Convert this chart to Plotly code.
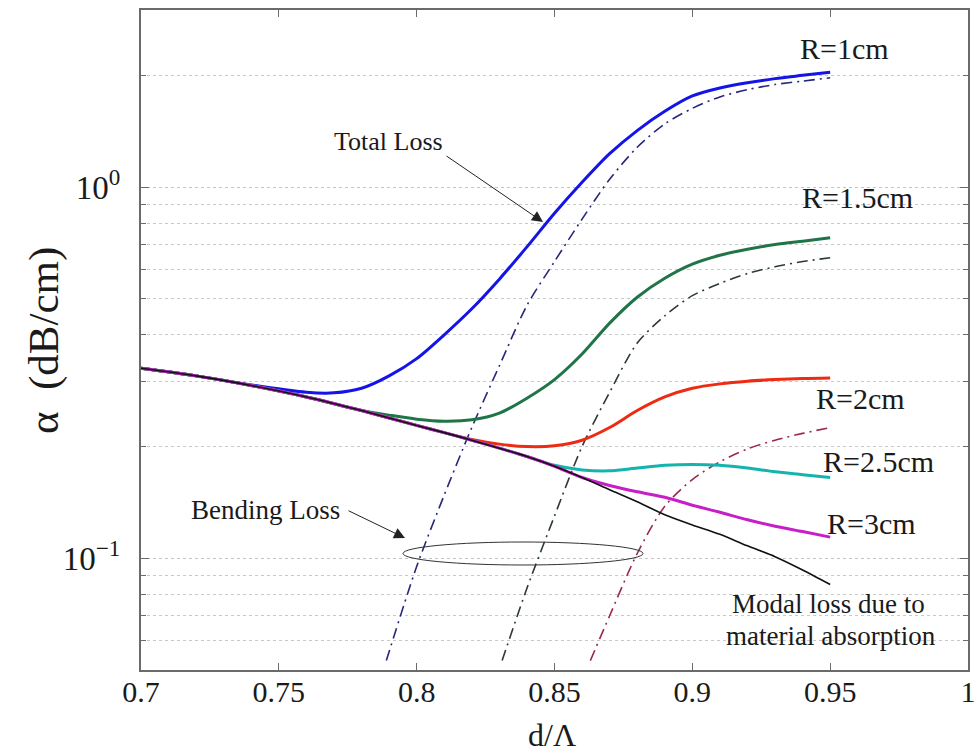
import math
import plotly.graph_objects as go

# ---------------- data ----------------
d_black = [0.70, 0.72, 0.74, 0.76, 0.78, 0.80, 0.81, 0.82, 0.83, 0.84, 0.85,
           0.86, 0.87, 0.88, 0.89, 0.90, 0.91, 0.92, 0.93, 0.94, 0.95]
a_material = [0.325, 0.310, 0.292, 0.272, 0.250, 0.228, 0.218, 0.208, 0.198, 0.188, 0.177,
              0.165, 0.153, 0.142, 0.131, 0.123, 0.116, 0.108, 0.101, 0.093, 0.085]

d_r1 = [0.70, 0.72, 0.74, 0.76, 0.77, 0.78, 0.79, 0.80, 0.81, 0.82, 0.83, 0.84, 0.85,
        0.86, 0.87, 0.88, 0.89, 0.90, 0.91, 0.92, 0.93, 0.94, 0.95]
a_r1 = [0.325, 0.310, 0.293, 0.280, 0.279, 0.287, 0.310, 0.345, 0.400, 0.470, 0.565, 0.690, 0.850,
        1.03, 1.23, 1.42, 1.60, 1.76, 1.85, 1.91, 1.96, 2.00, 2.04]

d_r15 = [0.70, 0.72, 0.74, 0.76, 0.78, 0.79, 0.80, 0.81, 0.82, 0.83, 0.84, 0.85,
         0.86, 0.87, 0.88, 0.89, 0.90, 0.91, 0.92, 0.93, 0.94, 0.95]
a_r15 = [0.325, 0.310, 0.292, 0.272, 0.250, 0.243, 0.237, 0.234, 0.236, 0.246, 0.270, 0.303,
         0.355, 0.430, 0.505, 0.568, 0.620, 0.655, 0.680, 0.700, 0.715, 0.730]

d_r2 = [0.70, 0.72, 0.74, 0.76, 0.78, 0.80, 0.81, 0.82, 0.83, 0.84, 0.85,
        0.86, 0.87, 0.88, 0.89, 0.90, 0.91, 0.92, 0.93, 0.94, 0.95]
a_r2 = [0.325, 0.310, 0.292, 0.272, 0.250, 0.228, 0.218, 0.209, 0.203, 0.200, 0.201,
        0.208, 0.225, 0.250, 0.272, 0.287, 0.295, 0.300, 0.303, 0.305, 0.306]

d_r25 = [0.70, 0.72, 0.74, 0.76, 0.78, 0.80, 0.81, 0.82, 0.83, 0.84, 0.85,
         0.86, 0.87, 0.88, 0.89, 0.90, 0.91, 0.92, 0.93, 0.94, 0.95]
a_r25 = [0.325, 0.310, 0.292, 0.272, 0.250, 0.228, 0.218, 0.208, 0.198, 0.188, 0.178,
         0.173, 0.172, 0.175, 0.178, 0.179, 0.178, 0.175, 0.171, 0.168, 0.165]

d_r3 = [0.70, 0.72, 0.74, 0.76, 0.78, 0.80, 0.81, 0.82, 0.83, 0.84, 0.85,
        0.86, 0.87, 0.88, 0.89, 0.90, 0.91, 0.92, 0.93, 0.94, 0.95]
a_r3 = [0.325, 0.310, 0.292, 0.272, 0.250, 0.228, 0.218, 0.208, 0.198, 0.188, 0.177,
        0.165, 0.157, 0.151, 0.146, 0.139, 0.133, 0.127, 0.122, 0.118, 0.114]

# bending-loss (dash-dot) curves
d_b1 = [0.789, 0.80, 0.81, 0.82, 0.83, 0.84, 0.85, 0.86, 0.87, 0.88, 0.89, 0.90,
        0.91, 0.92, 0.93, 0.94, 0.95]
a_b1 = [0.053, 0.095, 0.148, 0.225, 0.330, 0.480, 0.630, 0.820, 1.05, 1.28, 1.48, 1.63,
        1.75, 1.83, 1.89, 1.93, 1.97]

d_b15 = [0.831, 0.84, 0.85, 0.86, 0.87, 0.88, 0.89, 0.90, 0.91, 0.92, 0.93, 0.94, 0.95]
a_b15 = [0.053, 0.083, 0.130, 0.200, 0.280, 0.380, 0.450, 0.510, 0.550, 0.585, 0.610, 0.630, 0.645]

d_b2 = [0.863, 0.87, 0.88, 0.89, 0.90, 0.91, 0.92, 0.93, 0.94, 0.95]
a_b2 = [0.053, 0.070, 0.103, 0.138, 0.163, 0.182, 0.197, 0.208, 0.217, 0.225]

x_ticks = [0.7, 0.75, 0.8, 0.85, 0.9, 0.95, 1.0]
x_tick_text = ["0.7", "0.75", "0.8", "0.85", "0.9", "0.95", "1"]
y_ticks = [0.1, 1.0]
y_tick_text = ["10<sup>−1</sup>", "10<sup>0</sup>"]
y_minor = [0.05, 0.06, 0.07, 0.08, 0.09, 0.2, 0.3, 0.4, 0.5, 0.6, 0.7, 0.8, 0.9, 2.0, 3.0]

# ---------------- figure ----------------
SERIF = "Liberation Serif, Times New Roman, serif"
fig = go.Figure()

dashpat = "11px,5px,2px,5px"
for xs, ys, col in [(d_b1, a_b1, "#26267a"), (d_b15, a_b15, "#2c3a34"), (d_b2, a_b2, "#9a2a48")]:
    fig.add_trace(go.Scatter(x=xs, y=ys, mode="lines",
                             line=dict(color=col, width=1.6, dash=dashpat, shape="spline", smoothing=0.8),
                             hoverinfo="skip"))

for xs, ys, col in [(d_r1, a_r1, "#1414e6"), (d_r15, a_r15, "#1f7448"), (d_r2, a_r2, "#ee2a12"),
                    (d_r25, a_r25, "#14b4ae"), (d_r3, a_r3, "#c81ec8")]:
    fig.add_trace(go.Scatter(x=xs, y=ys, mode="lines",
                             line=dict(color=col, width=3, shape="spline", smoothing=0.8),
                             hoverinfo="skip"))

fig.add_trace(go.Scatter(x=d_black, y=a_material, mode="lines",
                         line=dict(color="#111111", width=1.6, shape="spline", smoothing=0.8),
                         hoverinfo="skip"))

L, R, T, B = 141, 12, 10, 84
W, H = 980, 754
PW, PH = W - L - R, H - T - B


def px(xp):
    return (xp - L) / PW


def py(yp):
    return (H - B - yp) / PH


txt = "#1a1a1a"
ann = []
for text, xc, yc, fs in [("R=1cm", 844, 48, 30), ("R=1.5cm", 857, 198, 30), ("R=2cm", 860, 398, 30),
                         ("R=2.5cm", 878, 461, 30), ("R=3cm", 871, 523, 30),
                         ("Modal loss due to", 828, 604, 27), ("material absorption", 831, 636, 27),
                         ("Total Loss", 388, 141, 26), ("Bending Loss", 265, 510, 27)]:
    ann.append(dict(text=text, x=px(xc), y=py(yc), xref="paper", yref="paper",
                    showarrow=False, xanchor="center", yanchor="middle",
                    font=dict(family=SERIF, size=fs, color=txt)))

# arrows
ann.append(dict(text="", x=px(543), y=py(222), xref="paper", yref="paper",
                ax=445 - 543, ay=155 - 222, showarrow=True, arrowhead=2, arrowsize=2.2,
                arrowwidth=1, arrowcolor="#222"))
ann.append(dict(text="", x=px(405), y=py(538), xref="paper", yref="paper",
                ax=347 - 405, ay=510 - 538, showarrow=True, arrowhead=2, arrowsize=2.2,
                arrowwidth=1, arrowcolor="#222"))

# axis titles
ann.append(dict(text="α  (dB/cm)", x=px(44), y=py(341), xref="paper", yref="paper",
                showarrow=False, textangle=-90, xanchor="center", yanchor="middle",
                font=dict(family=SERIF, size=43, color=txt)))
ann.append(dict(text="d/Λ", x=px(552), y=py(735), xref="paper", yref="paper",
                showarrow=False, xanchor="center", yanchor="middle",
                font=dict(family=SERIF, size=32, color=txt)))

shapes = [dict(type="circle", xref="paper", yref="paper",
               x0=px(403), x1=px(643), y0=py(565), y1=py(542),
               line=dict(color="#333", width=1))]

axis_line = "#6a6a6a"
fig.update_layout(
    width=W, height=H,
    margin=dict(l=L, r=R, t=T, b=B, autoexpand=False),
    paper_bgcolor="white", plot_bgcolor="white",
    showlegend=False,
    annotations=ann, shapes=shapes,
    xaxis=dict(range=[0.7, 1.0], tickmode="array", tickvals=x_ticks, ticktext=x_tick_text,
               ticks="inside", ticklen=7, tickwidth=1, tickcolor=axis_line,
               showline=True, linecolor=axis_line, linewidth=2, mirror="ticks",
               showgrid=False, zeroline=False, ticklabelstandoff=-6,
               tickfont=dict(family=SERIF, size=30, color=txt)),
    yaxis=dict(type="log", range=[math.log10(0.05), math.log10(3.0)],
               tickmode="array", tickvals=y_ticks, ticktext=y_tick_text,
               ticks="inside", ticklen=8, tickwidth=1, tickcolor=axis_line,
               showline=True, linecolor=axis_line, linewidth=2, mirror="ticks",
               showgrid=True, gridcolor="#c4c4c4", griddash="dot", gridwidth=1,
               zeroline=False, ticklabelstandoff=12,
               tickfont=dict(family=SERIF, size=33, color=txt),
               minor=dict(tickmode="array", tickvals=y_minor, ticks="inside", ticklen=5,
                          tickcolor=axis_line, showgrid=True, gridcolor="#c8c8c8",
                          griddash="dot", gridwidth=1)),
)

fig.write_html("out.html", config={"displayModeBar": False},
               post_script="document.body.style.margin='0';document.body.style.overflow='hidden';")
